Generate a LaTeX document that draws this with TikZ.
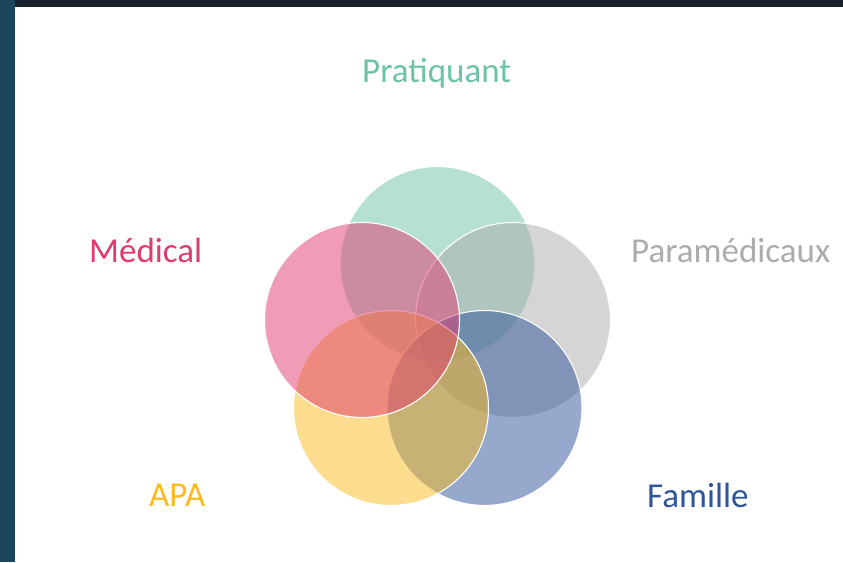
\documentclass[tikz,border=0pt]{standalone}
\usepackage{fontspec}
\setmainfont{Carlito}
\usepackage{tikz}
\usetikzlibrary{positioning}
\definecolor{pratiquantCol}{RGB}{108,195,168}
\definecolor{medicalCol}{RGB}{226,58,110}
\definecolor{paraCol}{RGB}{172,172,172}
\definecolor{familleCol}{RGB}{46,84,154}
\definecolor{apaCol}{RGB}{251,186,30}
\definecolor{topBg}{RGB}{22,34,44}
\definecolor{sideBg}{RGB}{28,70,92}
\tikzstyle{venn}=[circle, draw=white, line width=1.1pt, fill opacity=0.5, minimum size=195pt, inner sep=0pt]
\tikzstyle{label}=[anchor=base west, inner sep=0pt, font=\fontsize{35}{40}\selectfont]

\begin{document}
\begin{tikzpicture}[x=1pt, y=1pt]
      \useasboundingbox (0,0) rectangle (843,562);
      \fill[topBg] (0,0) rectangle (843,562);
      \fill[sideBg] (0,0) rectangle (15,562);
      \fill[white] (15,0) rectangle (843,555);

      % the five sets
      \node[venn, fill=pratiquantCol] (pratiquantSet) at (437.5,298) {};
      \node[venn, fill=paraCol] (paraSet) at (513,242) {};
      \node[venn, fill=familleCol] (familleSet) at (484.5,154) {};
      \node[venn, fill=apaCol] (apaSet) at (391,154) {};
      \node[venn, fill=medicalCol] (medicalSet) at (362,242) {};

      % names
      \node[label, text=pratiquantCol] (pratiquantText) at (362,479) {Pratiquant};
      \node[label, text=medicalCol] (medicalText) at (89,299) {Médical};
      \node[label, text=paraCol] (paraText) at (631,299) {Paramédicaux};
      \node[label, text=apaCol] (apaText) at (149,55) {APA};
      \node[label, text=familleCol] (familleText) at (647,54) {Famille};
    \end{tikzpicture}
\end{document}
